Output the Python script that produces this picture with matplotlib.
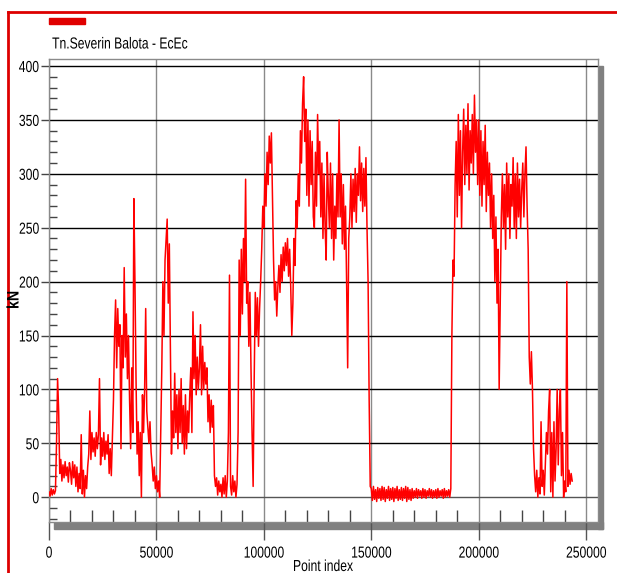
import numpy as np
import matplotlib
matplotlib.use("Agg")
import matplotlib.pyplot as plt
from matplotlib.patches import Rectangle
from matplotlib.lines import Line2D
from matplotlib.ticker import MultipleLocator
from matplotlib.transforms import Affine2D
from matplotlib.patheffects import AbstractPathEffect

plt.rcParams['font.family'] = ['Liberation Sans', 'DejaVu Sans']

#series name and axis texts
series_name = "Tn.Severin Balota - EcEc"
y_label = "kN"
x_label = "Point index"

#sampling step of the read values (point index)
step = 500

#kN values, one row = 10000 points
kn = [
    5, 1, 8, 2, 7, 3, 6, 50, 110, 80, 22, 35, 15, 30, 18, 33, 20, 28, 14, 32,
    25, 12, 33, 18, 30, 10, 28, 5, 22, 8, 58, 3, 25, 0, 20, 8, 28, 40, 80, 35,
    60, 42, 55, 38, 60, 45, 58, 110, 30, 55, 38, 60, 35, 52, 40, 58, 22, 45, 20, 55,
    90, 150, 183, 120, 175, 140, 160, 45, 150, 120, 213, 130, 170, 110, 150, 90, 45, 120, 60, 277,
    200, 110, 40, 70, 20, 60, 0, 95, 60, 100, 175, 80, 65, 50, 70, 42, 30, 15, 28, 8,
    20, 5, 15, 0, 60, 120, 200, 150, 220, 240, 258, 180, 235, 140, 40, 80, 55, 115, 60, 95,
    45, 100, 60, 110, 50, 85, 40, 95, 45, 80, 60, 95, 120, 60, 172, 110, 150, 95, 130, 100,
    120, 160, 95, 140, 100, 125, 105, 120, 70, 95, 60, 90, 65, 85, 20, 10, 18, 2, 15, 5,
    12, 0, 18, 3, 20, 0, 15, 60, 206, 10, 2, 20, 5, 15, 0, 12, 60, 220, 150, 230,
    170, 240, 200, 295, 180, 200, 140, 190, 120, 60, 10, 110, 190, 150, 185, 140, 175, 200, 230, 270,
    250, 300, 270, 320, 290, 335, 310, 338, 280, 220, 183, 200, 168, 195, 215, 190, 225, 200, 232, 210,
    236, 215, 240, 205, 230, 195, 150, 180, 240, 215, 275, 250, 300, 270, 340, 310, 365, 390, 330, 360,
    280, 350, 270, 340, 290, 330, 260, 250, 320, 270, 355, 300, 330, 260, 310, 240, 300, 250, 220, 320,
    280, 250, 310, 240, 300, 220, 270, 240, 300, 260, 350, 260, 300, 235, 290, 230, 270, 200, 120, 240,
    260, 300, 250, 295, 265, 305, 255, 300, 280, 325, 275, 310, 265, 305, 270, 315, 250, 200, 90, 10,
    8, -3, 10, -2, 7, -4, 9, -1, 8, -3, 10, -2, 9, -4, 7, -1, 10, -3, 8, -2,
    9, -4, 8, -1, 10, -3, 7, -2, 9, -3, 8, -1, 10, -4, 9, -2, 7, -3, 8, -1,
    6, 0, 8, -1, 7, 1, 6, -1, 8, 0, 7, -1, 6, 1, 8, 0, 7, -1, 6, 0,
    7, -1, 8, 0, 6, 1, 7, -1, 8, 0, 6, 1, 7, 0, 8, 150, 220, 205, 290, 330,
    260, 355, 280, 340, 250, 320, 360, 290, 345, 300, 365, 285, 340, 310, 355, 300, 373, 320, 350, 290,
    350, 280, 340, 270, 330, 290, 345, 265, 320, 280, 310, 250, 300, 240, 280, 200, 260, 180, 230, 100,
    180, 260, 300, 250, 290, 230, 310, 260, 300, 240, 290, 270, 315, 250, 300, 240, 310, 260, 295, 250,
    285, 310, 260, 300, 325, 270, 230, 130, 105, 135, 100, 45, 20, 5, 25, 0, 18, 3, 70, 10,
    25, 2, 30, 60, 40, 80, 100, 5, 60, 0, 70, 15, 45, 100, 30, 80, 100, 20, 60, 0,
    15, 5, 200, 10, 25, 12, 22, 15,
]
point_index = np.arange(len(kn)) * step

x_ticks = [0, 50000, 100000, 150000, 200000, 250000]
y_ticks = [0, 50, 100, 150, 200, 250, 300, 350, 400]


# the reference uses a narrow font, squeeze the glyphs sideways
class Narrow(AbstractPathEffect):
    def __init__(self, sx=0.76, anchor='center'):
        super().__init__()
        self.sx = sx
        self.anchor = anchor

    def draw_path(self, renderer, gc, tpath, affine, rgbFace=None):
        ext = tpath.get_extents()
        if self.anchor == 'left':
            cx = ext.x0
        elif self.anchor == 'right':
            cx = ext.x1
        else:
            cx = (ext.x0 + ext.x1) / 2
        t = Affine2D().translate(-cx, 0).scale(self.sx, 1).translate(cx, 0) + affine
        renderer.draw_path(gc, tpath, t, rgbFace)


FS = 11.5
W, H = 617, 573
fig = plt.figure(figsize=(W / 100, H / 100), dpi=100)

#axes box in pixel positions of the reference
left, right, top, bottom = 49, 598, 59, 522
ax = fig.add_axes([left / W, 1 - bottom / H, (right - left) / W, (bottom - top) / H])

ax.plot(point_index, kn, color='#ff0000', linewidth=1.1, zorder=3)

ax.set_xlim(0, 255500)
ax.set_ylim(-23, 406.5)
ax.set_xticks(x_ticks)
ax.set_yticks(y_ticks)
ax.xaxis.set_minor_locator(MultipleLocator(10000))
ax.yaxis.set_minor_locator(MultipleLocator(10))

ax.grid(axis='y', which='major', color='black', linewidth=1)
ax.grid(axis='x', which='major', color='#8a8a8a', linewidth=1)
for gl, t in zip(ax.get_ygridlines(), y_ticks):
    if t == 0:
        gl.set_color('#555555')

for s in ax.spines.values():
    s.set_color('#8a8a8a')
    s.set_linewidth(1)

ax.tick_params(axis='x', which='major', direction='out', length=13, width=1,
               color='#555555', pad=4, labelsize=FS)
ax.tick_params(axis='x', which='minor', direction='in', length=9, width=1, color='#444444')
ax.tick_params(axis='y', which='major', direction='out', length=6, width=1,
               color='#444444', pad=1, labelsize=FS)
ax.tick_params(axis='y', which='minor', direction='in', length=6, width=1, color='#444444')

for lbl in ax.get_xticklabels():
    lbl.set_path_effects([Narrow(anchor='center')])
for lbl in ax.get_yticklabels():
    lbl.set_path_effects([Narrow(anchor='right')])

#grey drop shadow right and below the plot box
shadow = '#808080'
fig.add_artist(Rectangle((right / W, 1 - 529 / H), 5 / W, (529 - 66) / H,
                         transform=fig.transFigure, color=shadow, zorder=0))
fig.add_artist(Rectangle((54 / W, 1 - 529 / H), (603 - 54) / W, 7 / H,
                         transform=fig.transFigure, color=shadow, zorder=0))

#legend swatch and name
fig.add_artist(Rectangle((49 / W, 1 - 24 / H), 36 / W, 6 / H,
                         transform=fig.transFigure, color='#e00000'))
fig.text(52 / W, 1 - 44 / H, series_name, fontsize=FS, va='center', ha='left',
         path_effects=[Narrow(anchor='left')])

fig.text(14 / W, 1 - 300 / H, y_label, rotation=90, fontsize=12, fontweight='bold',
         va='center', ha='center', path_effects=[Narrow(sx=0.85)])
fig.text(323 / W, 1 - 559 / H, x_label, fontsize=FS, va='top', ha='center',
         path_effects=[Narrow()])

#red frame round the panel
fig.add_artist(Line2D([8 / W, 8 / W], [0, 1 - 12 / H], transform=fig.transFigure,
                      color='#dd0000', linewidth=2))
fig.add_artist(Line2D([8 / W, 1], [1 - 12 / H, 1 - 12 / H], transform=fig.transFigure,
                      color='#dd0000', linewidth=2))

fig.savefig("out.png", dpi=100)
